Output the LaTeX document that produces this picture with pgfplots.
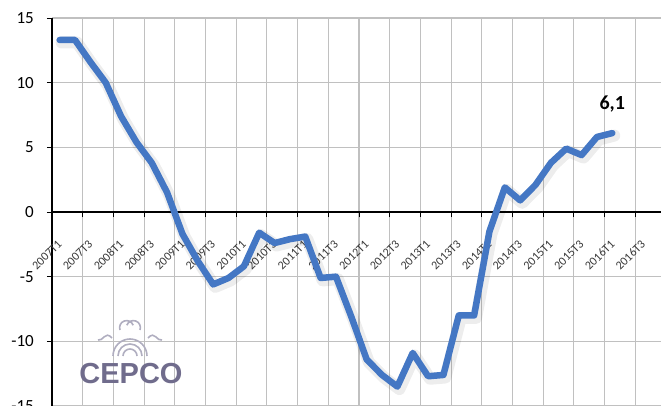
\documentclass[border=0pt]{standalone}
\usepackage{fontspec}
\setmainfont{Carlito}
\newfontfamily\logofont{Liberation Sans}
\usepackage{pgfplots}
\usepackage{pgfplotstable}
\pgfplotsset{compat=1.18}

\definecolor{lineblue}{RGB}{68,119,196}
\definecolor{gridgray}{RGB}{192,192,192}
\definecolor{logogray}{RGB}{112,108,140}

% quarterly growth, 2007T1 .. 2016T1 (category index t)
\pgfplotstableread{
t v
0 13.3
1 13.3
2 11.6
3 10.0
4 7.4
5 5.4
6 3.8
7 1.5
8 -1.7
9 -3.8
10 -5.6
11 -5.1
12 -4.2
13 -1.6
14 -2.4
15 -2.1
16 -1.9
17 -5.1
18 -5.0
19 -8.1
20 -11.4
21 -12.6
22 -13.5
23 -10.9
24 -12.7
25 -12.6
26 -8.0
27 -8.0
28 -1.5
29 1.9
30 0.9
31 2.1
32 3.8
33 4.9
34 4.4
35 5.8
36 6.1
}\growth

\begin{document}
\begin{tikzpicture}
\path[use as bounding box, clip] (-52pt,1pt) rectangle (609pt,406pt);
\begin{axis}[
  at={(0pt,0pt)}, anchor=south west,
  scale only axis, width=614pt, height=388pt,
  xmin=-0.5, xmax=39.5, ymin=-15, ymax=15,
  axis x line=middle, axis y line=left,
  axis line style={-, black, line width=1.6pt},
  hide obscured x ticks=false, hide obscured y ticks=false,
  xtick={-0.5,1.5,...,37.5},
  xticklabels={2007T1,2007T3,2008T1,2008T3,2009T1,2009T3,2010T1,2010T3,2011T1,2011T3,
    2012T1,2012T3,2013T1,2013T3,2014T1,2014T3,2015T1,2015T3,2016T1,2016T3},
  ytick={-15,-10,-5,0,5,10,15},
  yticklabels={-15,-10,-5,0,5,10,15},
  grid=major,
  grid style={gridgray, line width=1.1pt},
  tick align=outside, major tick length=5pt,
  tick style={black, line width=1pt},
  xticklabel style={font=\fontsize{12}{14}\selectfont, text=black!78, inner sep=0pt,
    xshift=5pt, yshift=-22pt, rotate=45, anchor=north east},
  yticklabel style={font=\fontsize{17}{20}\selectfont, inner sep=0pt, anchor=east, xshift=-13pt},
]
\addplot[no marks, black, opacity=0.07, line width=12pt, line join=round, line cap=round,
  xshift=2pt, yshift=-2.5pt] table[x=t, y=v] {\growth};
\addplot[no marks, lineblue, line width=6.5pt, line join=round, line cap=round]
  table[x=t, y=v] {\growth};
\node[font=\bfseries\fontsize{20}{24}\selectfont, anchor=base, yshift=24pt]
  at (axis cs:36,6.1) {6,1};
\end{axis}
% watermark logo
\begin{scope}[logogray!55, line width=1.6pt]
  \draw (66pt,50pt) arc (180:0:12pt);
  \draw (71pt,50pt) arc (180:0:7pt);
  \draw (61pt,50pt) arc (180:0:17pt);
  \draw (68pt,76pt) arc (200:20:7pt);
  \draw (88pt,76pt) arc (-20:160:7pt);
  \draw (60pt,68pt) .. controls (53pt,76pt) and (51pt,64pt) .. (46pt,66pt);
  \draw (96pt,68pt) .. controls (103pt,76pt) and (105pt,64pt) .. (110pt,66pt);
\end{scope}
\node[font=\logofont\bfseries\fontsize{29}{30}\selectfont, text=logogray] at (79pt,32pt) {CEPCO};
\end{tikzpicture}
\end{document}
